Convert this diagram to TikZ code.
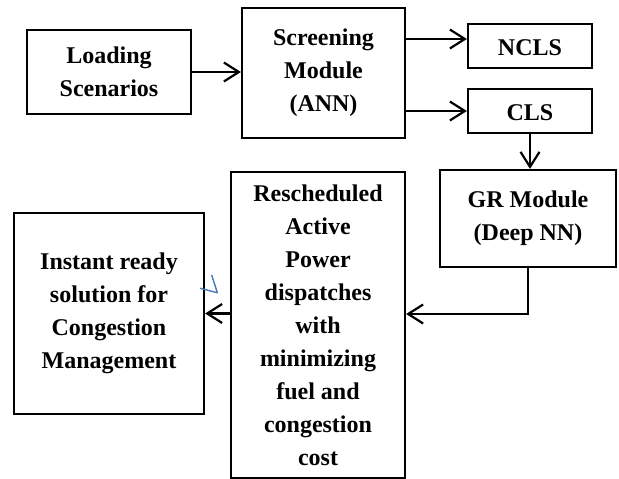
\documentclass[tikz,border=0pt]{standalone}
\usepackage{fontspec}
\setmainfont{Liberation Serif}
\usepackage{tikz}
\usetikzlibrary{arrows.meta,positioning}

\begin{document}
\begin{tikzpicture}[
    x=1pt, y=-1pt,
    module/.style={draw, line width=2.2pt, inner sep=0, align=center,
        font=\fontsize{24}{33}\selectfont\bfseries},
    flowarrow/.style={line width=2.2pt, -{Straight Barb[length=15pt,width=19pt]}},
    penmark/.style={draw=penblue, line width=1.4pt, line join=round}]
\definecolor{penblue}{RGB}{70,120,190}
\useasboundingbox (0,0) rectangle (619,479);

% blocks
\node[module, minimum width=164pt, minimum height=84pt]  (load)    at (109,72)    {Loading\\Scenarios};
\node[module, minimum width=163pt, minimum height=130pt] (screen)  at (323.5,73)  {Screening\\Module\\(ANN)};
\node[module, minimum width=124pt, minimum height=44pt]  (ncls)    at (530,46)    {\rule{0pt}{19pt}NCLS};
\node[module, minimum width=124pt, minimum height=44pt]  (cls)     at (530,111)   {\rule{0pt}{19pt}CLS};
\node[module, minimum width=176pt, minimum height=97pt]  (gr)      at (528,218.5) {GR Module\\(Deep NN)};
\node[module, minimum width=174pt, minimum height=306pt] (resched) at (318,325)
    {Rescheduled\\Active\\Power\\dispatches\\with\\minimizing\\fuel and\\congestion\\cost};
\node[module, minimum width=190pt, minimum height=201pt] (instant) at (109,313.5)
    {Instant ready\\solution for\\Congestion\\Management};

% connectors
\draw[flowarrow] (load.east) -- (load.east -| screen.west);
\draw[flowarrow] ([yshift=7pt]screen.east |- ncls.west) -- ([yshift=7pt]ncls.west);
\draw[flowarrow] (screen.east |- cls.west) -- (cls.west);
\draw[flowarrow] (cls.south) -- (cls.south |- gr.north);
\draw[flowarrow] (gr.south) |- ([yshift=11pt]resched.east);
\draw[flowarrow] (resched.west |- instant.east) -- (instant.east);

% stray pen mark
\draw[penmark] (211.7,275) -- (217.3,292.7) -- (200,288.3);
\end{tikzpicture}
\end{document}
